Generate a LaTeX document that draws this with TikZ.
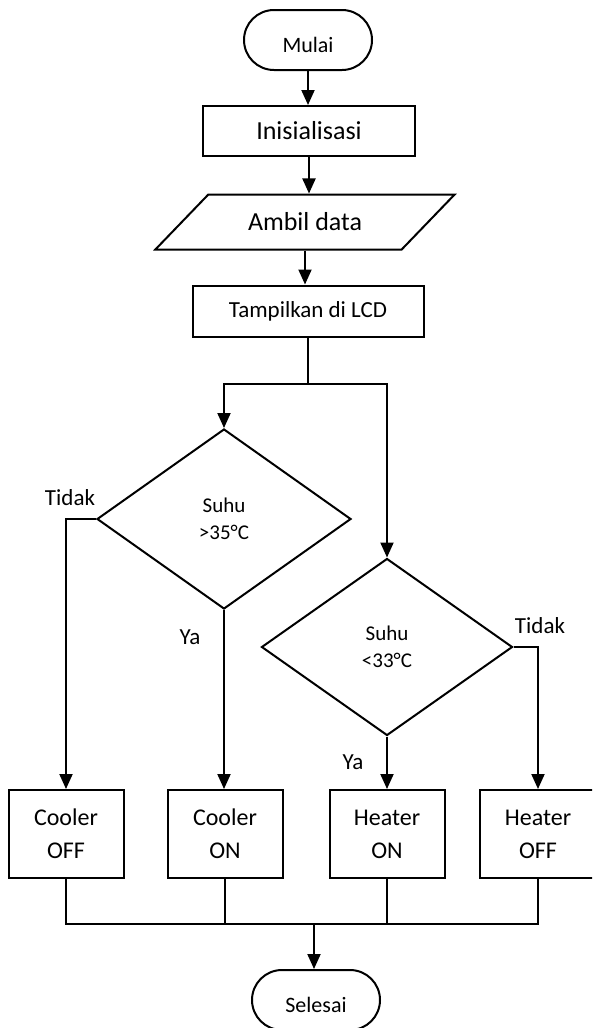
\documentclass[tikz,border=0pt]{standalone}
\usepackage{fontspec}
\setmainfont{Carlito}
\usetikzlibrary{arrows.meta,shapes.geometric,positioning}
\begin{document}
\begin{tikzpicture}[x=1pt, y=-1pt, line width=2pt, >={Triangle[width=13pt,length=15pt]},
  term/.style={draw, rounded corners=30pt, minimum width=128pt, minimum height=60pt, text height=26pt, text depth=2pt, font=\fontsize{22}{26}\selectfont},
  proc/.style={draw, minimum height=50pt},
  act/.style={draw, align=center, minimum width=115pt, minimum height=88pt, font=\fontsize{24}{33}\selectfont},
  cond/.style={draw, diamond, align=center, font=\fontsize{21}{27}\selectfont},
  lbl/.style={font=\fontsize{23}{28}\selectfont}]
  \useasboundingbox (0,0) rectangle (592,1028);
  \clip (0,0) rectangle (592,1028);
  \node[term] (mulai) at (308,40) {Mulai};
  \node[proc, minimum width=212pt, font=\fontsize{26}{31}\selectfont] (init) at (309,131) {Inisialisasi};
  \node[draw, trapezium, trapezium left angle=37, trapezium right angle=143, trapezium stretches=true, minimum width=300pt, minimum height=55pt, font=\fontsize{26}{31}\selectfont] (ambil) at (305,222) {Ambil data};
  \node[proc, minimum width=231pt, minimum height=51pt, font=\fontsize{23}{28}\selectfont] (tampil) at (308,311) {Tampilkan di LCD};
  \node[cond, minimum width=254pt, minimum height=180pt] (suhuA) at (224,519) {Suhu\\>35°C};
  \node[cond, minimum width=251pt, minimum height=177pt] (suhuB) at (387,647) {Suhu\\<33°C};
  \node[act] (coolOff) at (66,834) {Cooler\\OFF};
  \node[act] (coolOn) at (225,834) {Cooler\\ON};
  \node[act] (heatOn) at (387,834) {Heater\\ON};
  \node[act, minimum width=116pt] (heatOff) at (538,834) {Heater\\OFF};
  \node[term] (selesai) at (316,1000) {Selesai};
  \node[lbl] (tidakA) at (70,498) {Tidak};
  \node[lbl] (yaA) at (190,637) {Ya};
  \node[lbl] (tidakB) at (540,626) {Tidak};
  \node[lbl] (yaB) at (353,762) {Ya};
  \draw[->] (mulai.south) -- (mulai.south |- init.north);
  \draw[->] (init.south) -- (init.south |- ambil.north);
  \draw[->] (ambil.south) -- (ambil.south |- tampil.north);
  \coordinate (cabang) at (308,384);
  \draw (tampil.south) -- (cabang);
  \draw[->] (cabang) -| (suhuA.north);
  \draw[->] (cabang) -| (suhuB.north);
  \draw[->] (suhuA.west) -| (coolOff.north);
  \draw[->] (suhuA.south) -- (suhuA.south |- coolOn.north);
  \draw[->] (suhuB.south) -- (suhuB.south |- heatOn.north);
  \draw[->] (suhuB.east) -| (heatOff.north);
  \coordinate (gabung) at (314,924);
  \draw (coolOff.south) -- (coolOff.south |- gabung) -- (heatOff.south |- gabung) -- (heatOff.south);
  \draw (coolOn.south) -- (coolOn.south |- gabung);
  \draw (heatOn.south) -- (heatOn.south |- gabung);
  \draw[->] (gabung) -- (gabung |- selesai.north);
\end{tikzpicture}
\end{document}
